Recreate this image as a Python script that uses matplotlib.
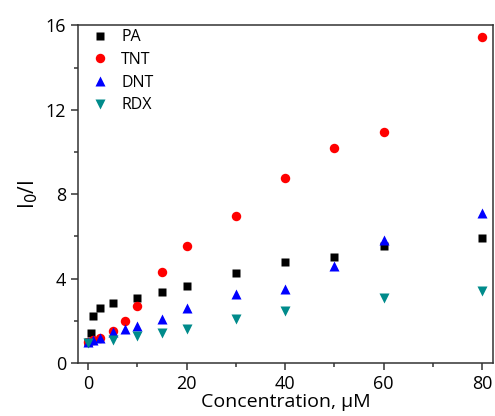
import matplotlib
matplotlib.use("Agg")
import matplotlib.pyplot as plt
from matplotlib.ticker import MultipleLocator

plt.rcParams['font.family'] = ['Open Sans', 'DejaVu Sans']

pa_x = [0, 0.5, 1, 2.5, 5, 10, 15, 20, 30, 40, 50, 60, 80]
pa_y = [1.0, 1.45, 2.25, 2.62, 2.86, 3.07, 3.35, 3.65, 4.28, 4.78, 5.03, 5.55, 5.94]

tnt_x = [0, 1, 2.5, 5, 7.5, 10, 15, 20, 30, 40, 50, 60, 80]
tnt_y = [1.0, 1.1, 1.2, 1.53, 1.99, 2.72, 4.31, 5.56, 6.97, 8.78, 10.2, 10.96, 15.47]

dnt_x = [0, 1, 2.5, 5, 7.5, 10, 15, 20, 30, 40, 50, 60, 80]
dnt_y = [1.0, 1.1, 1.2, 1.48, 1.62, 1.75, 2.1, 2.59, 3.27, 3.5, 4.62, 5.83, 7.09]

rdx_x = [0, 5, 10, 15, 20, 30, 40, 60, 80]
rdx_y = [0.95, 1.09, 1.3, 1.45, 1.62, 2.07, 2.45, 3.07, 3.43]

fig = plt.figure(figsize=(4.95, 4.16), dpi=100)
ax = fig.add_axes([0.158, 0.127, 0.838, 0.812])

ax.plot(pa_x, pa_y, 's', color='black', ms=6.0, mec='none', label='PA')
ax.plot(tnt_x, tnt_y, 'o', color='#ff0000', ms=6.8, mec='none', label='TNT')
ax.plot(dnt_x, dnt_y, '^', color='#0000ff', ms=7.6, mec='none', label='DNT')
ax.plot(rdx_x, rdx_y, 'v', color='#008b8b', ms=7.6, mec='none', label='RDX')

ax.set_xlim(-2, 82.2)
ax.set_ylim(0, 16)
ax.xaxis.set_major_locator(MultipleLocator(20))
ax.xaxis.set_minor_locator(MultipleLocator(10))
ax.yaxis.set_major_locator(MultipleLocator(4))
ax.yaxis.set_minor_locator(MultipleLocator(2))
ax.tick_params(which='both', direction='out', top=False, right=False,
               width=1.1, colors='#333333', labelcolor='black', labelsize=13)
ax.tick_params(which='major', length=5)
ax.tick_params(which='minor', length=3)
for s in ax.spines.values():
    s.set_linewidth(1.1)
    s.set_color('#333333')

ax.set_xlabel('Concentration, μM', fontsize=14, labelpad=0)
ax.set_ylabel('I$_0$/I', fontsize=15, labelpad=4)

ax.legend(loc='upper left', frameon=False, fontsize=11.5, handletextpad=0.44,
          labelspacing=0.42, borderaxespad=0.1, bbox_to_anchor=(0.0, 1.012),
          handlelength=1.75)

fig.savefig('out.png', dpi=100)
